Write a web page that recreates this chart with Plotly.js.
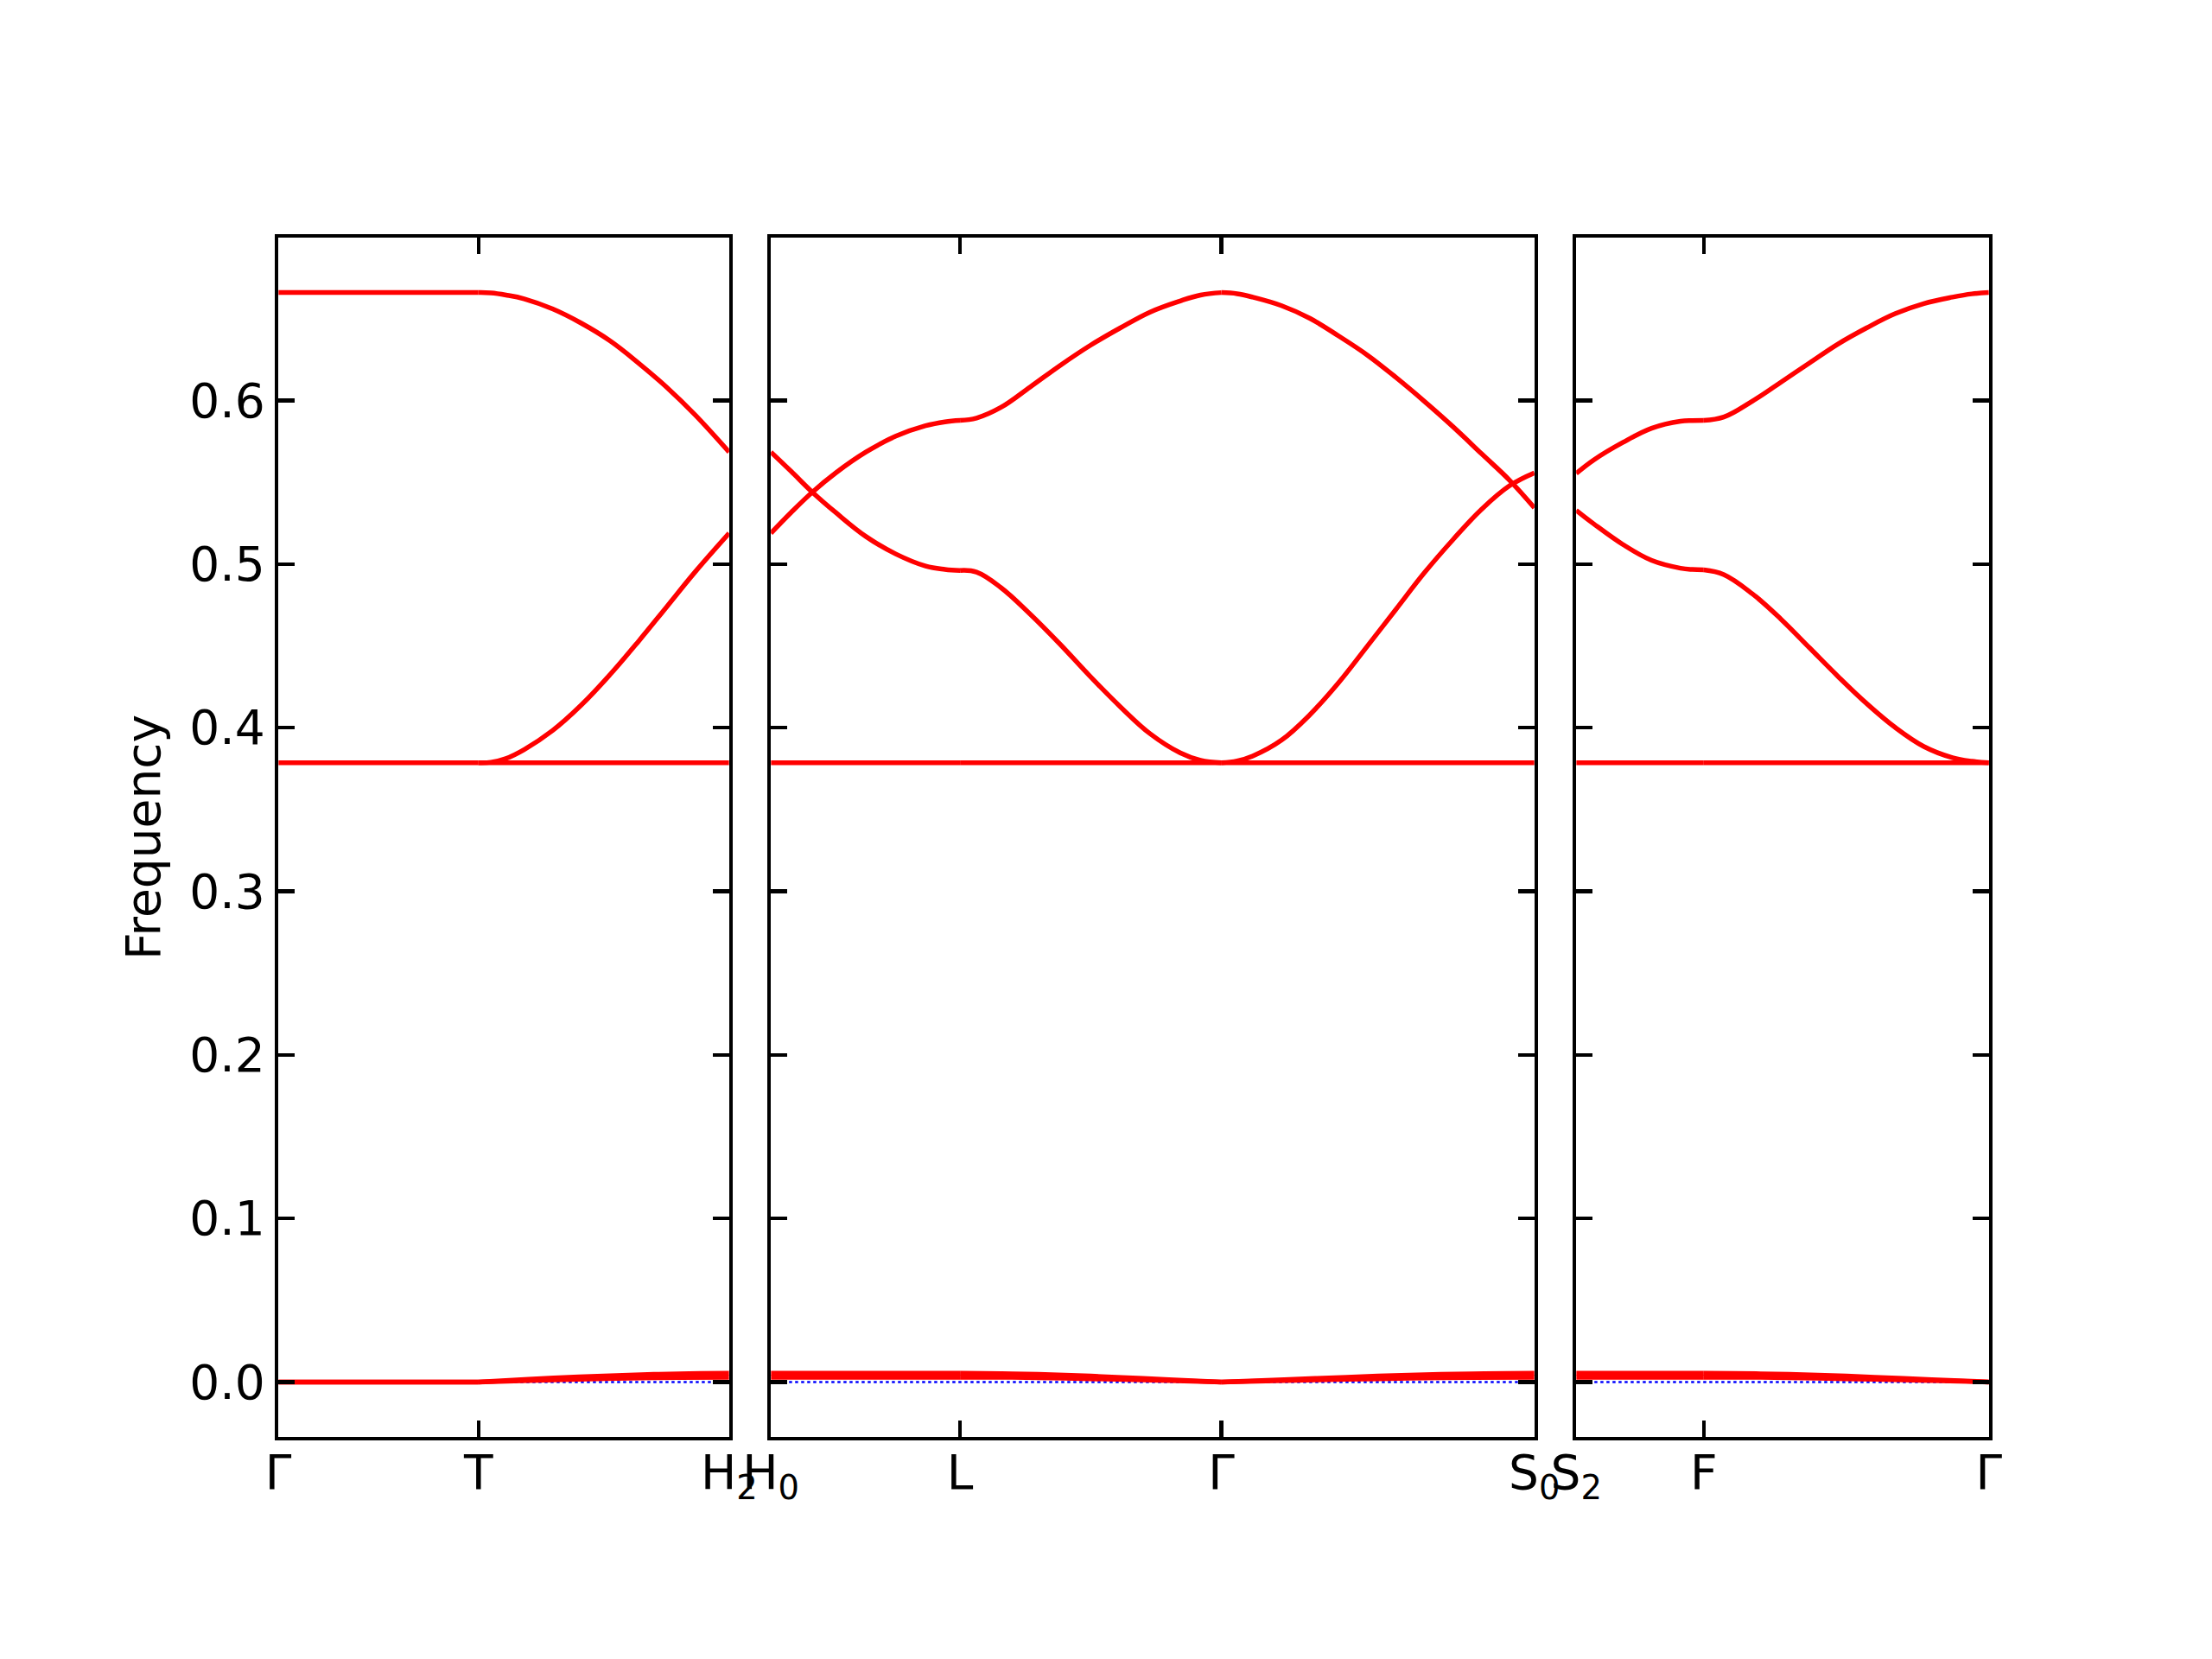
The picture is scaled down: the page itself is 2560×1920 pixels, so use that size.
<!DOCTYPE html>
<html>
<head>
<meta charset="utf-8">
<script src="https://cdn.plot.ly/plotly-3.0.1.min.js"></script>
<style>html,body{margin:0;padding:0;background:#fff}#chart{width:2560px;height:1920px}</style>
</head>
<body>
<div id="chart"></div>
<script>
// ---- q-path node positions (path distance) ----
const kGammaA = 0.0, kT = 0.2335, kH2 = 0.526;
const kH0 = 0.526, kL = 0.746, kGammaB = 1.050, kS0 = 1.414;
const kS2 = 1.414, kF = 1.563, kGammaC = 1.896;

// ---- tick labels ----
const ticks1 = ['Γ', 'T', 'H<sub>2</sub>'];
const ticks2 = ['H<sub>0</sub>', 'L', 'Γ', 'S<sub>0</sub>'];
const ticks3 = ['S<sub>2</sub>', 'F', 'Γ'];
const yTicks = [0.0, 0.1, 0.2, 0.3, 0.4, 0.5, 0.6];
const yTickText = ['0.0', '0.1', '0.2', '0.3', '0.4', '0.5', '0.6'];

// ---- band values (fraction along segment, frequency) ----
// Γ -> T
const fracGT = [0, 1];
const bandGT_top = [0.666, 0.666];
const bandGT_flat = [0.3786, 0.3786];
const acGT_1 = [0.0, 0.0];
const acGT_2 = [0.0, 0.0];

// T -> H2
const fracTH = [0, 0.05, 0.11, 0.182, 0.296, 0.410, 0.524, 0.638, 0.752, 0.866, 1.0];
const bandTH_upper = [0.666, 0.6658, 0.6645, 0.6622, 0.656, 0.6473, 0.6366, 0.623, 0.608, 0.591, 0.5685];
const bandTH_lower = [0.3786, 0.3789, 0.3812, 0.3866, 0.3983, 0.4138, 0.4323, 0.4527, 0.4741, 0.4955, 0.5189];
const fracTHflat = [0, 1];
const bandTH_flat = [0.3786, 0.3786];
const fracTHac = [0, 0.2, 0.4, 0.6, 0.8, 1.0];
const acTH_1 = [0.0, 0.0009, 0.0017, 0.0023, 0.0027, 0.0029];
const acTH_2 = [0.0, 0.0016, 0.0031, 0.0042, 0.0050, 0.0053];

// H0 -> L
const fracHL = [0, 0.106, 0.217, 0.343, 0.502, 0.660, 0.818, 0.92, 1.0];
const bandHL_B = [0.5189, 0.5315, 0.5438, 0.5558, 0.5685, 0.5782, 0.5846, 0.5870, 0.5879];
const bandHL_A = [0.5685, 0.5568, 0.5442, 0.5315, 0.5169, 0.5062, 0.4988, 0.4968, 0.4961];
const fracHLflat = [0, 1];
const bandHL_flat = [0.3786, 0.3786];
const acHL_1 = [0.0029, 0.0029];
const acHL_2 = [0.0053, 0.0053];

// L -> Γ
const fracLG = [0, 0.063, 0.155, 0.269, 0.384, 0.498, 0.613, 0.727, 0.842, 0.92, 1.0];
const bandLG_B = [0.5879, 0.5893, 0.5957, 0.6084, 0.6216, 0.6337, 0.6444, 0.6541, 0.6609, 0.6645, 0.666];
const bandLG_A = [0.4961, 0.4951, 0.4858, 0.4693, 0.4508, 0.4313, 0.4128, 0.3963, 0.3846, 0.3800, 0.3786];
const fracLGflat = [0, 1];
const bandLG_flat = [0.3786, 0.3786];
const fracLGac = [0, 0.2, 0.4, 0.6, 0.8, 1.0];
const acLG_1 = [0.0029, 0.0028, 0.0023, 0.0016, 0.0008, 0.0];
const acLG_2 = [0.0053, 0.0050, 0.0042, 0.0029, 0.0014, 0.0];

// Γ -> S0
const fracGS = [0, 0.05, 0.100, 0.192, 0.283, 0.374, 0.466, 0.557, 0.648, 0.740, 0.831, 0.922, 1.0];
const bandGS_B = [0.666, 0.6653, 0.6632, 0.658, 0.6502, 0.6395, 0.6278, 0.6142, 0.5996, 0.584, 0.5675, 0.551, 0.5344];
const bandGS_A = [0.3786, 0.3797, 0.3827, 0.3924, 0.408, 0.4274, 0.4498, 0.4722, 0.4946, 0.515, 0.5335, 0.5481, 0.5558];
const fracGSflat = [0, 1];
const bandGS_flat = [0.3786, 0.3786];
const fracGSac = [0, 0.2, 0.4, 0.6, 0.8, 1.0];
const acGS_1 = [0.0, 0.0008, 0.0016, 0.0023, 0.0027, 0.0029];
const acGS_2 = [0.0, 0.0014, 0.0029, 0.0042, 0.0050, 0.0053];

// S2 -> F
const fracSF = [0, 0.136, 0.364, 0.591, 0.818, 0.91, 1.0];
const bandSF_A = [0.5554, 0.5636, 0.5743, 0.5831, 0.5874, 0.5878, 0.5879];
const bandSF_B = [0.5329, 0.5247, 0.5121, 0.5023, 0.4975, 0.4967, 0.4965];
const fracSFflat = [0, 1];
const bandSF_flat = [0.3786, 0.3786];
const acSF_1 = [0.0029, 0.0029];
const acSF_2 = [0.0053, 0.0053];

// F -> Γ
const fracFG = [0, 0.070, 0.170, 0.271, 0.371, 0.471, 0.571, 0.671, 0.772, 0.872, 0.94, 1.0];
const bandFG_A = [0.5879, 0.5899, 0.5996, 0.6113, 0.623, 0.6346, 0.6444, 0.6531, 0.6593, 0.6632, 0.6652, 0.666];
const bandFG_B = [0.4965, 0.4936, 0.4819, 0.4663, 0.4488, 0.4313, 0.4148, 0.4002, 0.3885, 0.3817, 0.3795, 0.3786];
const fracFGflat = [0, 1];
const bandFG_flat = [0.3786, 0.3786];
const fracFGac = [0, 0.2, 0.4, 0.6, 0.8, 1.0];
const acFG_1 = [0.0029, 0.0028, 0.0023, 0.0016, 0.0008, 0.0];
const acFG_2 = [0.0053, 0.0050, 0.0042, 0.0029, 0.0014, 0.0];

// zero reference line
const zeroLine = [0, 0];

// ---- build traces ----
const RED = '#ff0000';
const LW = 5.5;
const traces = [];

function zeroTrace(k0, k1, xa, ya) {
  traces.push({
    type: 'scatter', mode: 'lines', x: [k0, k1], y: zeroLine,
    xaxis: xa, yaxis: ya, hoverinfo: 'skip', showlegend: false,
    line: {color: '#0000ff', width: 2.5, dash: '3.5px,3.5px'}
  });
}
function seg(k0, k1, fr, vals, xa, ya) {
  traces.push({
    type: 'scatter', mode: 'lines',
    x: fr.map(f => k0 + f * (k1 - k0)), y: vals,
    xaxis: xa, yaxis: ya, hoverinfo: 'skip', showlegend: false,
    line: {color: RED, width: LW, shape: 'spline', smoothing: 1.1}
  });
}

zeroTrace(kGammaA, kH2, 'x', 'y');
zeroTrace(kH0, kS0, 'x2', 'y2');
zeroTrace(kS2, kGammaC, 'x3', 'y3');

// panel 1
seg(kGammaA, kT, fracGT, bandGT_top, 'x', 'y');
seg(kGammaA, kT, fracGT, bandGT_flat, 'x', 'y');
seg(kGammaA, kT, fracGT, acGT_1, 'x', 'y');
seg(kGammaA, kT, fracGT, acGT_2, 'x', 'y');
seg(kT, kH2, fracTH, bandTH_upper, 'x', 'y');
seg(kT, kH2, fracTH, bandTH_lower, 'x', 'y');
seg(kT, kH2, fracTHflat, bandTH_flat, 'x', 'y');
seg(kT, kH2, fracTHac, acTH_1, 'x', 'y');
seg(kT, kH2, fracTHac, acTH_2, 'x', 'y');

// panel 2
seg(kH0, kL, fracHL, bandHL_B, 'x2', 'y2');
seg(kH0, kL, fracHL, bandHL_A, 'x2', 'y2');
seg(kH0, kL, fracHLflat, bandHL_flat, 'x2', 'y2');
seg(kH0, kL, fracHLflat, acHL_1, 'x2', 'y2');
seg(kH0, kL, fracHLflat, acHL_2, 'x2', 'y2');
seg(kL, kGammaB, fracLG, bandLG_B, 'x2', 'y2');
seg(kL, kGammaB, fracLG, bandLG_A, 'x2', 'y2');
seg(kL, kGammaB, fracLGflat, bandLG_flat, 'x2', 'y2');
seg(kL, kGammaB, fracLGac, acLG_1, 'x2', 'y2');
seg(kL, kGammaB, fracLGac, acLG_2, 'x2', 'y2');
seg(kGammaB, kS0, fracGS, bandGS_B, 'x2', 'y2');
seg(kGammaB, kS0, fracGS, bandGS_A, 'x2', 'y2');
seg(kGammaB, kS0, fracGSflat, bandGS_flat, 'x2', 'y2');
seg(kGammaB, kS0, fracGSac, acGS_1, 'x2', 'y2');
seg(kGammaB, kS0, fracGSac, acGS_2, 'x2', 'y2');

// panel 3
seg(kS2, kF, fracSF, bandSF_A, 'x3', 'y3');
seg(kS2, kF, fracSF, bandSF_B, 'x3', 'y3');
seg(kS2, kF, fracSFflat, bandSF_flat, 'x3', 'y3');
seg(kS2, kF, fracSFflat, acSF_1, 'x3', 'y3');
seg(kS2, kF, fracSFflat, acSF_2, 'x3', 'y3');
seg(kF, kGammaC, fracFG, bandFG_A, 'x3', 'y3');
seg(kF, kGammaC, fracFG, bandFG_B, 'x3', 'y3');
seg(kF, kGammaC, fracFGflat, bandFG_flat, 'x3', 'y3');
seg(kF, kGammaC, fracFGac, acFG_1, 'x3', 'y3');
seg(kF, kGammaC, fracFGac, acFG_2, 'x3', 'y3');

// ---- layout ----
const FONT = {family: 'DejaVu Sans', size: 55, color: '#000'};
const YRANGE = [-0.0335, 0.6995];
const INSET = 2.2;
const W = 2560, H = 1920;
const YDOM = [1 - (1665 - INSET) / H, 1 - (273 + INSET) / H];
function xdom(a, b) { return [(a + INSET) / W, (b - INSET) / W]; }

function xAxis(dom, rng, vals, text, anchor) {
  return {
    domain: dom, range: rng, anchor: anchor,
    tickmode: 'array', tickvals: vals, ticktext: text,
    ticks: 'inside', ticklen: 19, tickwidth: 4.4, tickcolor: '#000',
    showline: true, linewidth: 4.4, linecolor: '#000', mirror: 'ticks',
    showgrid: false, zeroline: false, tickfont: FONT,
    ticklabelstandoff: -10, fixedrange: true
  };
}
function yAxis(anchor, labels) {
  return {
    domain: YDOM, range: YRANGE, anchor: anchor,
    tickmode: 'array', tickvals: yTicks, ticktext: yTickText,
    showticklabels: labels,
    ticks: 'inside', ticklen: 19, tickwidth: 4.4, tickcolor: '#000',
    showline: true, linewidth: 4.4, linecolor: '#000', mirror: 'ticks',
    showgrid: false, zeroline: false, tickfont: FONT,
    ticklabelstandoff: 0, fixedrange: true
  };
}

const layout = {
  width: W, height: H,
  margin: {l: 0, r: 0, t: 0, b: 0},
  paper_bgcolor: '#fff', plot_bgcolor: '#fff',
  font: FONT, showlegend: false,
  xaxis: xAxis(xdom(320, 846), [kGammaA, kH2], [kGammaA, kT, kH2], ticks1, 'y'),
  xaxis2: xAxis(xdom(890, 1778), [kH0, kS0], [kH0, kL, kGammaB, kS0], ticks2, 'y2'),
  xaxis3: xAxis(xdom(1822, 2304), [kS2, kGammaC], [kS2, kF, kGammaC], ticks3, 'y3'),
  yaxis: Object.assign(yAxis('x', true), {title: {text: 'Frequency', font: FONT, standoff: 17}}),
  yaxis2: yAxis('x2', false),
  yaxis3: yAxis('x3', false)
};

Plotly.newPlot('chart', traces, layout, {staticPlot: true, displayModeBar: false});
</script>
</body>
</html>
